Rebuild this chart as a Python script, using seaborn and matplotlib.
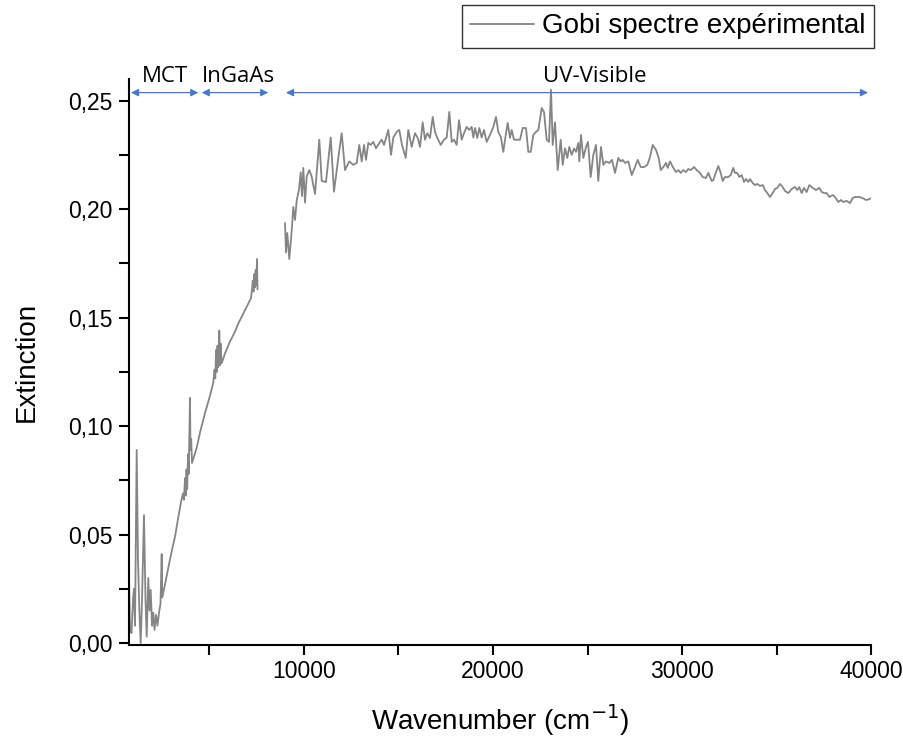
import matplotlib
matplotlib.use("Agg")
import matplotlib.pyplot as plt
import matplotlib.ticker as mticker
from matplotlib.lines import Line2D
import numpy as np
import pandas as pd
import seaborn as sns

# infrared part (MCT + InGaAs detectors), continuous
ir_wavenumber = [741, 794, 874, 953, 1005, 1058, 1148, 1217, 1296, 1360,
                 1429, 1534, 1614, 1677, 1762, 1826, 1889, 1958, 2027, 2090,
                 2170, 2249, 2328, 2407, 2471, 2503, 2646, 2804, 3016, 3175,
                 3349, 3492, 3598, 3651, 3704, 3741, 3783, 3820, 3863, 3900,
                 3931, 3968, 3995, 4032, 4074, 4322, 4497, 4762, 5026, 5201,
                 5265, 5307, 5344, 5381, 5423, 5460, 5519, 5556, 5593, 5635,
                 5688, 5820, 6085, 6349, 6508, 6968, 7196, 7249, 7291, 7328,
                 7370, 7407, 7444, 7476, 7513, 7540]
ir_extinction = [0.030, 0.006, 0.0046, 0.020, 0.025, 0.008, 0.089, 0.038, 0.013, 0.000,
                 0.020, 0.059, 0.020, 0.003, 0.030, 0.015, 0.0245, 0.008, 0.014, 0.006,
                 0.013, 0.008, 0.014, 0.018, 0.041, 0.021, 0.027, 0.034, 0.043, 0.049,
                 0.058, 0.065, 0.069, 0.066, 0.076, 0.068, 0.080, 0.071, 0.087, 0.078,
                 0.094, 0.113, 0.089, 0.094, 0.083, 0.090, 0.097, 0.106, 0.114, 0.120,
                 0.126, 0.122, 0.135, 0.125, 0.137, 0.127, 0.144, 0.128, 0.138, 0.129,
                 0.130, 0.1335, 0.139, 0.1435, 0.147, 0.155, 0.159, 0.163, 0.167, 0.162,
                 0.170, 0.164, 0.172, 0.165, 0.177, 0.163]

# UV-visible part
uv_wavenumber = [8995, 9048, 9116, 9222, 9349, 9434, 9524, 9614, 9735, 9825,
                 9894, 9963, 10053, 10143, 10280, 10407, 10582, 10810, 10937, 11164,
                 11413, 11587, 11815, 11995, 12169, 12397, 12608, 12788, 12926, 13053,
                 13175, 13280, 13402, 13529, 13667, 13810, 13984, 14111, 14233, 14339,
                 14460, 14603, 14725, 14905, 15042, 15185, 15381, 15518, 15698, 15873,
                 16016, 16138, 16280, 16402, 16524, 16667, 16810, 16931, 17053, 17233,
                 17407, 17550, 17688, 17815, 17937, 18079, 18201, 18344, 18466, 18608,
                 18746, 18873, 18958, 19048, 19169, 19275, 19402, 19524, 19667, 19841,
                 20016, 20159, 20280, 20423, 20545, 20688, 20778, 20899, 20989, 21111,
                 21286, 21429, 21571, 21746, 21868, 21995, 22132, 22275, 22397, 22577,
                 22698, 22841, 22963, 23069, 23159, 23280, 23423, 23582, 23688, 23810,
                 23931, 24037, 24164, 24286, 24392, 24513, 24566, 24656, 24778, 24921,
                 25026, 25169, 25307, 25450, 25571, 25714, 25836, 25979, 26153, 26296,
                 26455, 26630, 26757, 26862, 26984, 27159, 27339, 27513, 27656, 27815,
                 27989, 28164, 28307, 28450, 28624, 28767, 28873, 29011, 29153, 29243,
                 29365, 29540, 29683, 29804, 29931, 30069, 30212, 30333, 30460, 30635,
                 30778, 30915, 31095, 31270, 31392, 31571, 31656, 31799, 31921, 32048,
                 32153, 32275, 32450, 32577, 32714, 32804, 32926, 33032, 33159, 33280,
                 33386, 33508, 33598, 33741, 33862, 33984, 34127, 34270, 34392, 34513,
                 34656, 34799, 34921, 35042, 35185, 35328, 35450, 35624, 35804, 35979,
                 36101, 36206, 36333, 36455, 36598, 36735, 36915, 37090, 37265, 37392,
                 37513, 37656, 37794, 37974, 38095, 38270, 38413, 38534, 38714, 38889,
                 39032, 39153, 39381, 39561, 39735, 39910, 40000]
uv_extinction = [0.1936, 0.180, 0.189, 0.177, 0.190, 0.201, 0.195, 0.204, 0.209, 0.217,
                 0.206, 0.219, 0.203, 0.215, 0.218, 0.215, 0.207, 0.232, 0.213, 0.2125,
                 0.233, 0.208, 0.2236, 0.235, 0.218, 0.222, 0.2204, 0.2213, 0.2296, 0.222,
                 0.2296, 0.2227, 0.2305, 0.2296, 0.231, 0.228, 0.2305, 0.232, 0.2296, 0.2328,
                 0.2365, 0.225, 0.233, 0.2356, 0.2365, 0.2296, 0.2236, 0.2365, 0.2287, 0.235,
                 0.2328, 0.2287, 0.240, 0.232, 0.235, 0.2328, 0.2425, 0.2356, 0.2328, 0.2296,
                 0.232, 0.233, 0.2448, 0.231, 0.232, 0.2296, 0.241, 0.232, 0.235, 0.2379,
                 0.2365, 0.2379, 0.233, 0.2374, 0.2328, 0.2374, 0.233, 0.2365, 0.231, 0.2342,
                 0.2379, 0.2425, 0.2356, 0.233, 0.2264, 0.235, 0.2397, 0.2328, 0.2365, 0.232,
                 0.232, 0.232, 0.2374, 0.2374, 0.2264, 0.2264, 0.2342, 0.2356, 0.2365, 0.2466,
                 0.2448, 0.232, 0.231, 0.255, 0.2296, 0.240, 0.218, 0.232, 0.2204, 0.228,
                 0.2236, 0.2287, 0.225, 0.228, 0.2264, 0.2305, 0.222, 0.2342, 0.2236, 0.2287,
                 0.231, 0.2148, 0.225, 0.2296, 0.213, 0.2287, 0.2204, 0.222, 0.2213, 0.2227,
                 0.2167, 0.2236, 0.222, 0.2227, 0.2213, 0.222, 0.2157, 0.2194, 0.2227, 0.2194,
                 0.2194, 0.2204, 0.224, 0.2296, 0.2273, 0.2236, 0.218, 0.2194, 0.2213, 0.219,
                 0.222, 0.219, 0.2171, 0.218, 0.2167, 0.218, 0.2171, 0.2185, 0.218, 0.2194,
                 0.218, 0.2171, 0.2148, 0.2144, 0.2167, 0.213, 0.2134, 0.2171, 0.2199, 0.2167,
                 0.213, 0.2148, 0.2148, 0.2157, 0.219, 0.2167, 0.2167, 0.2148, 0.2157, 0.2125,
                 0.2139, 0.2125, 0.2139, 0.212, 0.2111, 0.2116, 0.2107, 0.2111, 0.2088, 0.2074,
                 0.2056, 0.2074, 0.2093, 0.2098, 0.2116, 0.2102, 0.2084, 0.2074, 0.2093, 0.2102,
                 0.2088, 0.2102, 0.2074, 0.2098, 0.2079, 0.2111, 0.2098, 0.2088, 0.2098, 0.2079,
                 0.2074, 0.2074, 0.2056, 0.2065, 0.2056, 0.2033, 0.2042, 0.2033, 0.2038, 0.2028,
                 0.2051, 0.2056, 0.2056, 0.2051, 0.2042, 0.2046, 0.2051]

# detector ranges drawn as double arrows above the spectrum
range_names = ["MCT", "InGaAs", "UV-Visible"]
range_start = [847, 4587, 9048]
range_end = [4407, 8111, 39841]
range_label_x = [2645, 6545, 25397]

ir = pd.DataFrame({"wavenumber": ir_wavenumber, "extinction": ir_extinction})
uv = pd.DataFrame({"wavenumber": uv_wavenumber, "extinction": uv_extinction})

sns.set_style("ticks")
plt.rcParams["font.family"] = ["Liberation Sans", "DejaVu Sans"]
plt.rcParams["text.color"] = "black"
plt.rcParams["axes.labelcolor"] = "black"

fig = plt.figure(figsize=(9.04, 7.38), dpi=100)
ax = fig.add_axes([0.1427, 0.126, 0.9635 - 0.1427, 0.893 - 0.126])

line_color = "#858585"
sns.lineplot(data=ir, x="wavenumber", y="extinction", ax=ax, color=line_color,
             linewidth=1.3, sort=False, estimator=None)
sns.lineplot(data=uv, x="wavenumber", y="extinction", ax=ax, color=line_color,
             linewidth=1.3, sort=False, estimator=None)

ax.set_xlim(741, 40000)
ax.set_ylim(-0.0009, 0.26)

ax.xaxis.set_major_locator(mticker.MultipleLocator(5000))
ax.xaxis.set_major_formatter(mticker.FuncFormatter(
    lambda v, p: f"{int(v)}" if v % 10000 == 0 and v > 0 else ""))
ax.yaxis.set_major_locator(mticker.MultipleLocator(0.025))
ax.yaxis.set_major_formatter(mticker.FuncFormatter(
    lambda v, p: f"{v:.2f}".replace(".", ",") if round(v / 0.025) % 2 == 0 else ""))

ax.tick_params(axis="both", direction="out", length=7, width=1.5, labelsize=16.5,
               color="black", labelcolor="black")
ax.tick_params(axis="y", pad=5)
for side in ["top", "right"]:
    ax.spines[side].set_visible(False)
for side in ["left", "bottom"]:
    ax.spines[side].set_linewidth(1.5)
    ax.spines[side].set_color("black")

ax.set_xlabel("Wavenumber (cm$^{-1}$)", fontsize=20, labelpad=14, color="black")
ax.set_ylabel("Extinction", fontsize=20, labelpad=20, color="black")

arrow_y = 0.2537
for name, x0, x1, xt in zip(range_names, range_start, range_end, range_label_x):
    ax.annotate("", xy=(x1, arrow_y), xytext=(x0, arrow_y),
                arrowprops=dict(arrowstyle="<|-|>", color="#4a78c8", lw=0.9,
                                mutation_scale=11, shrinkA=0, shrinkB=0),
                annotation_clip=False)
    ax.text(xt, arrow_y + 0.0025, name, ha="center", va="bottom", fontsize=16,
            family=["Open Sans", "DejaVu Sans"], color="black")

handle = Line2D([], [], color=line_color, linewidth=1.3)
leg = ax.legend([handle], ["Gobi spectre expérimental"], loc="upper right",
                bbox_to_anchor=(874 / 904, 1 - 5 / 738), bbox_transform=fig.transFigure,
                fontsize=20, frameon=True, fancybox=False, handlelength=2.3,
                handletextpad=0.3, borderpad=0.3, borderaxespad=0)
leg.get_frame().set_edgecolor("black")
leg.get_frame().set_linewidth(1.0)
for t in leg.get_texts():
    t.set_color("black")

fig.savefig("out.png", dpi=100)
